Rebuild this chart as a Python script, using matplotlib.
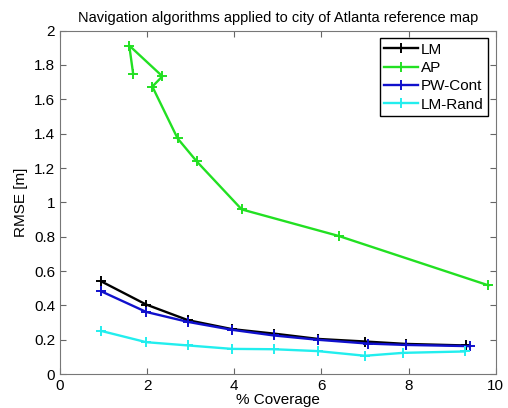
import matplotlib
matplotlib.use('Agg')
import matplotlib.pyplot as plt

plt.rcParams['font.family'] = ['Liberation Sans', 'DejaVu Sans']

# % coverage / RMSE values
lm_x = [0.94, 1.98, 2.94, 3.95, 4.91, 5.92, 7.0, 7.93, 9.31]
lm_y = [0.541, 0.405, 0.314, 0.262, 0.236, 0.205, 0.19, 0.176, 0.167]

ap_x = [1.68, 1.59, 2.35, 2.12, 2.70, 3.14, 4.17, 6.40, 9.83]
ap_y = [1.748, 1.913, 1.734, 1.674, 1.372, 1.238, 0.959, 0.804, 0.517]

pw_x = [0.94, 1.98, 2.94, 3.95, 4.91, 5.92, 7.06, 7.93, 9.40]
pw_y = [0.483, 0.362, 0.304, 0.258, 0.225, 0.2, 0.178, 0.17, 0.163]

rand_x = [0.94, 1.98, 2.94, 3.95, 4.91, 5.92, 7.0, 7.88, 9.29]
rand_y = [0.252, 0.186, 0.167, 0.147, 0.145, 0.134, 0.107, 0.124, 0.132]

fig = plt.figure(figsize=(5.08, 4.08), dpi=100)
ax = fig.add_axes([0.118, 0.083, 0.858, 0.842])

style = dict(marker='+', markersize=6.5, mew=1.4, lw=1.7)
ax.plot(lm_x, lm_y, color='black', label='LM', **style)
ax.plot(ap_x, ap_y, color='#22e022', label='AP', **style)
ax.plot(pw_x, pw_y, color='#1010cc', label='PW-Cont', **style)
ax.plot(rand_x, rand_y, color='#22eeee', label='LM-Rand', **style)

ax.set_xlim(0, 10)
ax.set_ylim(0, 2)
ax.set_xticks(range(0, 11, 2))
ax.set_yticks([0, 0.2, 0.4, 0.6, 0.8, 1, 1.2, 1.4, 1.6, 1.8, 2])
ax.set_yticklabels(['0', '0.2', '0.4', '0.6', '0.8', '1', '1.2', '1.4', '1.6', '1.8', '2'])
ax.tick_params(direction='in', top=True, right=True, labelsize=11, length=4, color='#666666')
for s in ax.spines.values():
    s.set_color('#777777')

ax.set_title('Navigation algorithms applied to city of Atlanta reference map', fontsize=10.5, pad=6)
ax.set_xlabel('% Coverage', fontsize=11, labelpad=0)
ax.set_ylabel('RMSE [m]', fontsize=11, labelpad=4)

leg = ax.legend(loc='upper right', fontsize=11, fancybox=False, framealpha=1,
                edgecolor='black', borderaxespad=0.5, handlelength=2.2,
                handletextpad=0.2, labelspacing=0.28, borderpad=0.3)
leg.get_frame().set_linewidth(1.0)

fig.savefig('out.png', dpi=100)
